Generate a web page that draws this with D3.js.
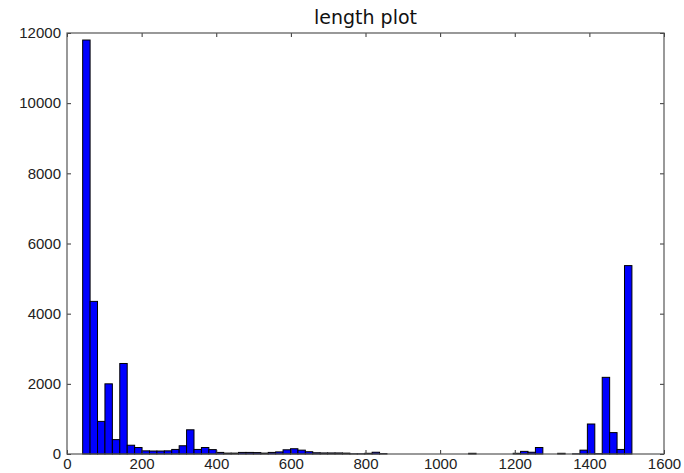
<!DOCTYPE html>
<meta charset="utf-8">
<style>
  body { margin: 0; background: #fff; }
  svg { font-family: "DejaVu Sans", sans-serif; }
  .tick text { fill: #222; }
</style>
<body>
<div id="vis"></div>
<script src="https://cdn.jsdelivr.net/npm/d3@7/dist/d3.min.js"></script>
<script>

const width = 684,
    height = 473;

// histogram range (packet length) and the 74 bin counts
const lengthMin = 42, lengthMax = 1514;
const counts = [
  11800, 4350, 930, 2000, 410, 2580, 250, 185, 90, 85,
  85, 90, 130, 235, 690, 130, 185, 125, 45, 25,
  25, 45, 45, 40, 25, 45, 60, 120, 150, 110,
  65, 35, 30, 30, 30, 25, 5, 5, 20, 50,
  10, 0, 0, 0, 0, 0, 0, 0, 0, 0,
  0, 0, 20, 0, 0, 0, 0, 0, 20, 75,
  50, 185, 0, 0, 20, 0, 5, 110, 855, 10,
  2185, 610, 130, 5370
];
const xTicks = [0, 200, 400, 600, 800, 1000, 1200, 1400, 1600];
const yTicks = [0, 2000, 4000, 6000, 8000, 10000, 12000];
const title = 'length plot';

const m = {left: 67, right: 20, top: 33, bottom: 19};
const pw = width - m.left - m.right,
    ph = height - m.top - m.bottom;

const binW = (lengthMax - lengthMin) / counts.length;
const bins = counts.map((c, i) => ({x0: lengthMin + i*binW, x1: lengthMin + (i+1)*binW, n: c}));

const x = d3.scaleLinear().domain([0, 1600]).range([0, pw]);
const y = d3.scaleLinear().domain([0, 12000]).range([ph, 0]);

const svg = d3.select('#vis').append('svg')
    .attr('width', width)
    .attr('height', height);

const g = svg.append('g')
    .attr('transform', 'translate(' + m.left + ',' + m.top + ')');

g.selectAll('.bar')
  .data(bins)
  .enter().append('rect')
  .attr('class', 'bar')
  .attr('x', d => x(d.x0))
  .attr('width', d => x(d.x1) - x(d.x0))
  .attr('y', d => y(d.n))
  .attr('height', d => ph - y(d.n))
  .style('fill', '#0000ff')
  .style('stroke', '#000')
  .style('stroke-width', 1);

// ticks point inward on all four sides (classic matplotlib look)
const styleAxis = (sel) => {
  sel.select('.domain').remove();
  sel.selectAll('.tick line').style('stroke', '#333');
  sel.selectAll('.tick text').style('font-size', '15px');
};

g.append('g')
  .attr('transform', 'translate(0,' + ph + ')')
  .call(d3.axisBottom(x).tickValues(xTicks).tickSize(-4).tickPadding(4).tickFormat(d3.format('d')))
  .call(styleAxis);
g.append('g')
  .call(d3.axisTop(x).tickValues(xTicks).tickSize(-4).tickFormat(''))
  .call(styleAxis);
g.append('g')
  .call(d3.axisLeft(y).tickValues(yTicks).tickSize(-4).tickPadding(6).tickFormat(d3.format('d')))
  .call(styleAxis);
g.append('g')
  .attr('transform', 'translate(' + pw + ',0)')
  .call(d3.axisRight(y).tickValues(yTicks).tickSize(-4).tickFormat(''))
  .call(styleAxis);

g.append('rect')
  .attr('width', pw)
  .attr('height', ph)
  .style('fill', 'none')
  .style('stroke', '#555')
  .style('stroke-width', 1.2);

svg.append('text')
  .attr('x', m.left + pw/2)
  .attr('y', 24)
  .style('text-anchor', 'middle')
  .style('font-size', '19px')
  .style('fill', '#111')
  .text(title);

</script>
</body>
